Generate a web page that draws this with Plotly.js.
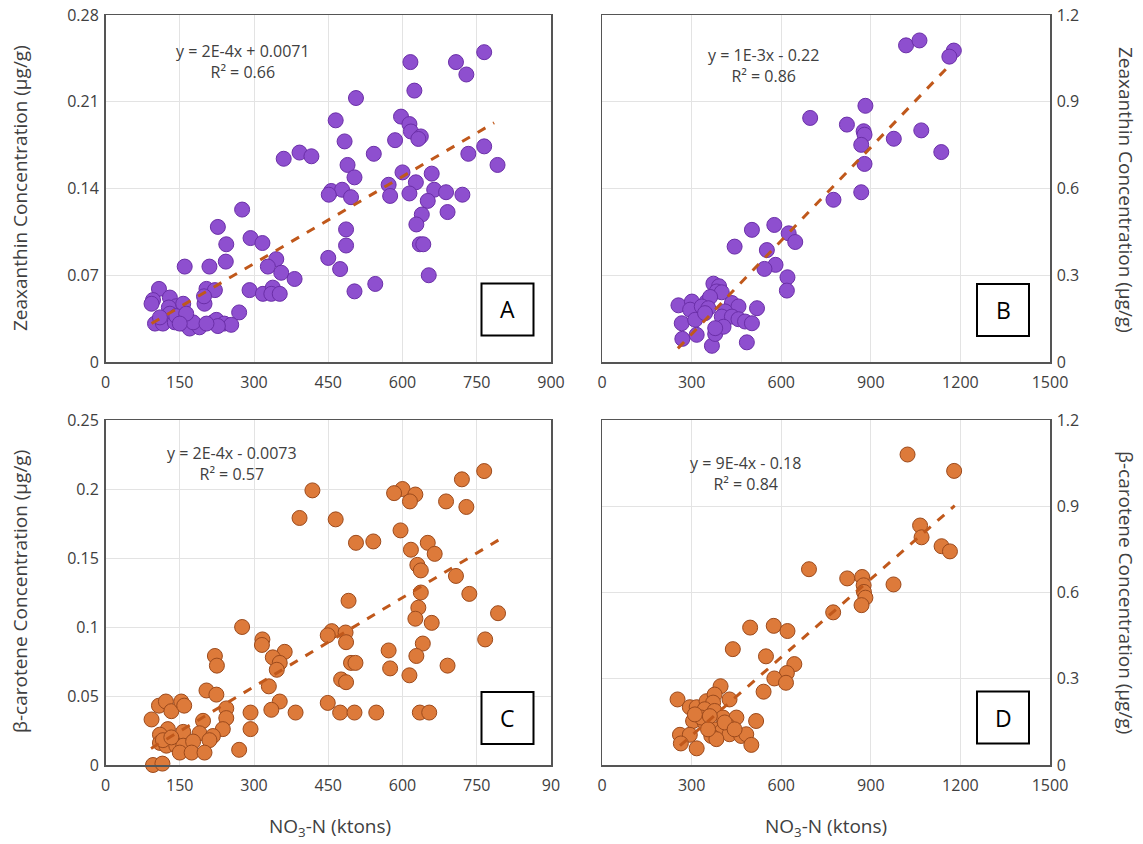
<!DOCTYPE html>
<html>
<head>
<meta charset="utf-8">
<script src="https://cdn.plot.ly/plotly-3.0.1.min.js"></script>
<style>html,body{margin:0;padding:0;background:#fff;}#chart{width:1143px;height:844px;}</style>
</head>
<body>
<div id="chart"></div>
<script>
// ---------- Data ----------
var A_x = [765,616,708,729,624,506,465,597,614,617,637,632,585,483,765,733,542,360,392,416,792,489,503,600,659,627,572,456,478,451,496,575,614,664,688,721,651,639,691,628,486,635,642,486,450,474,653,545,503,276,227,244,293,317,243,345,328,355,382,160,210,204,221,291,318,338,335,352,270,200,199,108,96,93,130,143,128,157,130,100,116,140,157,170,190,217,224,240,254,227,177,204,143,163,110,150];
var A_y = [0.250,0.242,0.242,0.232,0.219,0.213,0.195,0.198,0.192,0.186,0.182,0.180,0.179,0.178,0.174,0.168,0.168,0.164,0.169,0.166,0.159,0.159,0.149,0.153,0.152,0.145,0.143,0.138,0.139,0.135,0.133,0.134,0.136,0.139,0.137,0.135,0.130,0.119,0.121,0.111,0.107,0.095,0.095,0.094,0.084,0.075,0.070,0.063,0.057,0.123,0.109,0.095,0.100,0.096,0.081,0.083,0.077,0.072,0.067,0.077,0.077,0.059,0.058,0.058,0.055,0.060,0.055,0.055,0.040,0.047,0.053,0.059,0.050,0.047,0.052,0.045,0.044,0.047,0.039,0.031,0.031,0.032,0.031,0.027,0.028,0.032,0.034,0.031,0.030,0.029,0.032,0.031,0.037,0.039,0.036,0.031];
var A_trend_x = [93, 785];
var A_trend_y = [0.031, 0.193];

var B_x = [1018,1063,1178,1163,882,697,820,876,879,1069,977,868,1136,879,868,775,502,577,625,647,444,552,581,544,621,619,519,485,368,269,317,379,267,256,301,312,295,351,373,392,384,401,362,435,457,412,401,435,457,479,502,407,379,334,356,312,345];
var B_y = [1.095,1.112,1.077,1.056,0.886,0.844,0.821,0.798,0.786,0.801,0.772,0.751,0.726,0.685,0.587,0.561,0.457,0.474,0.445,0.415,0.399,0.387,0.336,0.322,0.293,0.247,0.186,0.068,0.056,0.080,0.094,0.097,0.134,0.196,0.209,0.169,0.181,0.209,0.271,0.262,0.244,0.241,0.225,0.204,0.192,0.175,0.157,0.157,0.148,0.140,0.134,0.122,0.117,0.192,0.186,0.146,0.169];
var B_trend_x = [254, 1170];
var B_trend_y = [0.047, 1.033];

var C_x = [765,720,418,600,583,626,615,688,729,392,465,596,506,541,617,651,665,630,637,708,637,735,491,793,632,626,659,276,457,449,485,486,767,317,316,641,572,628,221,225,362,338,352,346,496,505,575,691,614,330,476,486,204,224,352,449,335,384,474,503,547,635,654,293,293,270,244,244,237,93,108,122,133,153,159,126,110,157,197,190,217,210,110,123,143,157,177,150,174,200,96,115,116,133];
var C_y = [0.213,0.207,0.199,0.200,0.197,0.196,0.191,0.191,0.187,0.179,0.178,0.170,0.161,0.162,0.156,0.161,0.153,0.145,0.141,0.137,0.125,0.124,0.119,0.110,0.114,0.106,0.103,0.100,0.097,0.094,0.096,0.089,0.091,0.091,0.087,0.088,0.083,0.079,0.079,0.072,0.082,0.078,0.074,0.069,0.074,0.074,0.070,0.072,0.065,0.057,0.062,0.060,0.054,0.051,0.046,0.045,0.040,0.038,0.038,0.038,0.038,0.038,0.038,0.038,0.026,0.011,0.041,0.034,0.026,0.033,0.043,0.046,0.039,0.046,0.043,0.026,0.022,0.024,0.032,0.023,0.021,0.018,0.016,0.014,0.014,0.014,0.017,0.009,0.009,0.009,0.000,0.001,0.018,0.020];
var C_trend_x = [92, 794];
var C_trend_y = [0.012, 0.163];

var D_x = [1023,1179,1065,1070,1137,1165,693,821,871,876,877,882,869,976,774,496,575,621,438,549,644,619,577,616,541,516,397,427,253,294,317,350,377,372,344,377,405,450,305,344,422,377,400,427,366,466,483,500,383,261,294,264,317,333,361,411,444,355,311];
var D_y = [1.080,1.023,0.833,0.792,0.761,0.743,0.681,0.649,0.654,0.625,0.602,0.582,0.556,0.628,0.531,0.478,0.484,0.466,0.403,0.378,0.351,0.320,0.301,0.286,0.255,0.153,0.274,0.228,0.228,0.201,0.201,0.222,0.245,0.217,0.194,0.188,0.165,0.165,0.153,0.148,0.136,0.124,0.116,0.107,0.101,0.101,0.107,0.070,0.090,0.105,0.105,0.075,0.058,0.165,0.170,0.148,0.124,0.124,0.176];
var D_trend_x = [261, 1181];
var D_trend_y = [0.067, 0.902];

var xTicksLeft = [0,150,300,450,600,750,900];
var xTickTextTop = ['0','150','300','450','600','750','900'];
var xTickTextBottom = ['0','150','300','450','600','750','90'];
var xTicksRight = [0,300,600,900,1200,1500];
var xTickTextRight = ['0','300','600','900','1200','1500'];
var yTicksA = [0,0.07,0.14,0.21,0.28];
var yTickTextA = ['0','0.07','0.14','0.21','0.28'];
var yTicksC = [0,0.05,0.1,0.15,0.2,0.25];
var yTickTextC = ['0','0.05','0.1','0.15','0.2','0.25'];
var yTicksR = [0,0.3,0.6,0.9,1.2];
var yTickTextR = ['0','0.3','0.6','0.9','1.2'];

var equations = ['y = 2E-4x + 0.0071<br>R² = 0.66','y = 1E-3x - 0.22<br>R² = 0.86','y = 2E-4x - 0.0073<br>R² = 0.57','y = 9E-4x - 0.18<br>R² = 0.84'];
var panelLabels = ['A','B','C','D'];
var yTitleZea = 'Zeaxanthin Concentration (µg/g)';
var yTitleBeta = 'β-carotene Concentration (µg/g)';
var xTitle = 'NO<sub>3</sub>-N (ktons)';

// ---------- Styles ----------
var W = 1143, H = 844;
var FONT = 'Open Sans, Noto Sans, sans-serif';
var txtCol = '#404040';
var purple = {color:'#8E4FCF', line:{color:'#6B2FA8', width:1}, size:15, symbol:'circle'};
var orange = {color:'#DD7A3A', line:{color:'#9C4A1C', width:1}, size:15, symbol:'circle'};
var trendStyle = {color:'#C0581B', width:3, dash:'dash'};

function px2x(p){return p/W;}
function px2y(p){return 1-p/H;}

var domXL = [px2x(105.5), px2x(551)];
var domXR = [px2x(602), px2x(1050)];
var domYT = [px2y(362), px2y(15)];
var domYB = [px2y(765), px2y(420)];

function axisBase(){
  return {showline:true, mirror:true, linecolor:'#555555', linewidth:1.5,
    showgrid:true, gridcolor:'#e3e3e3', gridwidth:1, zeroline:false, ticks:'',
    tickfont:{family:FONT, size:16, color:txtCol}, fixedrange:true, tickmode:'array'};
}
function xax(dom, anchor, rng, vals, text){
  var a = axisBase(); a.domain = dom; a.anchor = anchor; a.range = rng;
  a.tickvals = vals; a.ticktext = text; a.ticklabelstandoff = 5; return a;
}
function yax(dom, anchor, rng, vals, text, side){
  var a = axisBase(); a.domain = dom; a.anchor = anchor; a.range = rng;
  a.tickvals = vals; a.ticktext = text; a.side = side; a.ticklabelstandoff = 2; return a;
}

var traces = [
  {x:A_x, y:A_y, xaxis:'x', yaxis:'y', type:'scatter', mode:'markers', marker:purple, cliponaxis:false, hoverinfo:'skip'},
  {x:A_trend_x, y:A_trend_y, xaxis:'x', yaxis:'y', type:'scatter', mode:'lines', line:trendStyle, hoverinfo:'skip'},
  {x:B_x, y:B_y, xaxis:'x2', yaxis:'y2', type:'scatter', mode:'markers', marker:purple, cliponaxis:false, hoverinfo:'skip'},
  {x:B_trend_x, y:B_trend_y, xaxis:'x2', yaxis:'y2', type:'scatter', mode:'lines', line:trendStyle, hoverinfo:'skip'},
  {x:C_x, y:C_y, xaxis:'x3', yaxis:'y3', type:'scatter', mode:'markers', marker:orange, cliponaxis:false, hoverinfo:'skip'},
  {x:C_trend_x, y:C_trend_y, xaxis:'x3', yaxis:'y3', type:'scatter', mode:'lines', line:trendStyle, hoverinfo:'skip'},
  {x:D_x, y:D_y, xaxis:'x4', yaxis:'y4', type:'scatter', mode:'markers', marker:orange, cliponaxis:false, hoverinfo:'skip'},
  {x:D_trend_x, y:D_trend_y, xaxis:'x4', yaxis:'y4', type:'scatter', mode:'lines', line:trendStyle, hoverinfo:'skip'}
];

var annotations = [];
var shapes = [];
function addText(text, xp, yp, size, angle, color){
  annotations.push({text:text, xref:'paper', yref:'paper', x:px2x(xp), y:px2y(yp), xanchor:'center', yanchor:'middle',
    showarrow:false, textangle:angle||0, font:{family:FONT, size:size, color:color||txtCol}});
}
// equations
addText(equations[0], 243, 61, 16);
addText(equations[1], 763, 66, 16);
addText(equations[2], 232, 463, 16);
addText(equations[3], 745, 473, 16);
// panel labels in boxes
var boxCenters = [[507.5,309.5],[1003,310],[507.5,718],[1003,717.5]];
for (var i=0;i<4;i++){
  var cx = boxCenters[i][0], cy = boxCenters[i][1];
  shapes.push({type:'rect', xref:'paper', yref:'paper', x0:px2x(cx-26), x1:px2x(cx+26), y0:px2y(cy+26), y1:px2y(cy-26),
    line:{color:'#000000', width:2}, fillcolor:'#ffffff', layer:'above'});
  addText(panelLabels[i], cx, cy, 23, 0, '#000000');
}
// axis titles
addText(yTitleZea, 20, 188, 19, -90);
addText(yTitleZea, 1126, 190, 19, 90);
addText(yTitleBeta, 20, 592, 19, -90);
addText(yTitleBeta, 1126, 592, 19, 90);
addText(xTitle, 330, 827, 19);
addText(xTitle, 826, 827, 19);

var layout = {
  width:W, height:H, margin:{l:0,r:0,t:0,b:0}, paper_bgcolor:'#ffffff', plot_bgcolor:'#ffffff',
  showlegend:false, font:{family:FONT, color:txtCol},
  xaxis: xax(domXL, 'y', [0,900], xTicksLeft, xTickTextTop),
  yaxis: yax(domYT, 'x', [0,0.28], yTicksA, yTickTextA, 'left'),
  xaxis2: xax(domXR, 'y2', [0,1500], xTicksRight, xTickTextRight),
  yaxis2: yax(domYT, 'x2', [0,1.2], yTicksR, yTickTextR, 'right'),
  xaxis3: xax(domXL, 'y3', [0,900], xTicksLeft, xTickTextBottom),
  yaxis3: yax(domYB, 'x3', [0,0.25], yTicksC, yTickTextC, 'left'),
  xaxis4: xax(domXR, 'y4', [0,1500], xTicksRight, xTickTextRight),
  yaxis4: yax(domYB, 'x4', [0,1.2], yTicksR, yTickTextR, 'right'),
  shapes: shapes,
  annotations: annotations
};

Plotly.newPlot('chart', traces, layout, {displayModeBar:false, staticPlot:true});
</script>
</body>
</html>
